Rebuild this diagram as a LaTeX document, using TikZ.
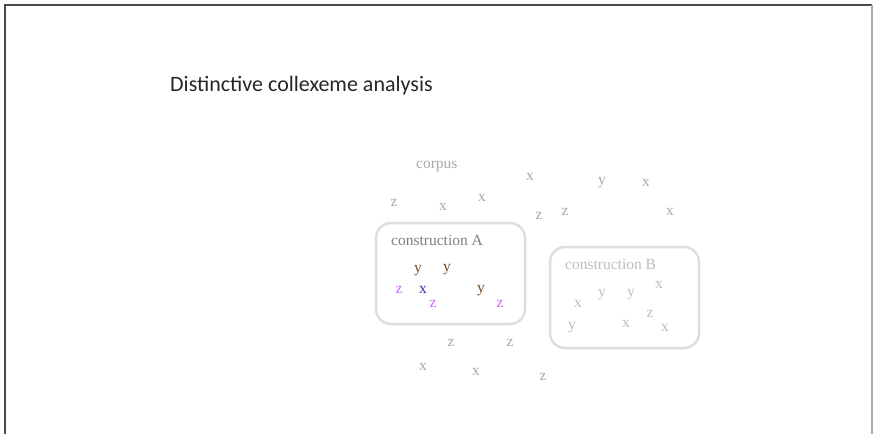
\documentclass[tikz,border=0pt]{standalone}
\usepackage{fontspec}
\setmainfont{Liberation Serif}
\newfontfamily\titlefont{Carlito}
\usetikzlibrary{positioning}

\definecolor{framegray}{HTML}{4A4A4A}
\definecolor{boxgray}{HTML}{DEDEDE}
\definecolor{lettergray}{HTML}{A8A8A8}
\definecolor{labelA}{HTML}{7F7F7F}
\definecolor{labelB}{HTML}{BDBDBD}
\definecolor{titlegray}{HTML}{262626}
\definecolor{ybrown}{HTML}{7B4A1C}
\definecolor{zviolet}{HTML}{CC66FF}
\definecolor{xblue}{HTML}{3535B0}

\begin{document}
\begin{tikzpicture}[
        x = 1pt, y = -1pt, % one unit per pixel
        letter/.style = {anchor=base, inner sep=0pt, font=\fontsize{15.5}{16}\selectfont, text=lettergray},
        label/.style = {anchor=base west, inner sep=0pt, font=\fontsize{15.5}{16}\selectfont},
        box/.style = {draw=boxgray, line width=2.5pt, rounded corners=15pt, inner sep=0pt}
        ]
  \useasboundingbox (0,0) rectangle (873,434);

  % slide frame
  \draw[framegray, line width=2pt] (4.5,434) -- (4.5,4.5) -- (872,4.5);
  \draw[lettergray, line width=1.5pt] (872,4.5) -- (872,434);

  \node[anchor=base west, inner sep=0pt, text=titlegray, font=\titlefont\fontsize{22}{24}\selectfont] (title) at (170,91) {Distinctive collexeme analysis};

  % the two constructions
  \node[box, minimum width=149pt, minimum height=101pt] (boxA) at (450.5,273.5) {};
  \node[box, minimum width=149pt, minimum height=101pt] (boxB) at (624.5,297.5) {};

  \node[label, text=lettergray] (corpus) at (416,168) {corpus};
  \node[label, text=labelA] (consA) at (391,245.5) {construction A};
  \node[label, text=labelB] (consB) at (565,269.5) {construction B};

  % corpus, outside the boxes
  \foreach \l/\px/\py [count=\i] in {x/530/180.5, y/602/184.5, x/646/186, z/394/206,
      x/443/210, x/482/201, z/539/219, z/565/215, x/670/215,
      z/451/346, z/510/346, x/423/370, x/476/375, z/543/380}
    \node[letter] (out\i) at (\px,\py) {\l};

  % inside construction A
  \node[letter, text=ybrown] (a1) at (418,272.5) {y};
  \node[letter, text=ybrown] (a2) at (447,271.5) {y};
  \node[letter, text=zviolet] (a3) at (399,293) {z};
  \node[letter, text=xblue] (a4) at (423,293) {x};
  \node[letter, text=zviolet] (a5) at (433,307) {z};
  \node[letter, text=ybrown] (a6) at (481,292.5) {y};
  \node[letter, text=zviolet] (a7) at (500,307) {z};

  % inside construction B
  \foreach \l/\px/\py [count=\i] in {x/659/288, y/602/296.5, y/631/296.5, x/578/307,
      z/650/317, x/626/327, y/572/329.5, x/665/331}
    \node[letter, text=labelB] (b\i) at (\px,\py) {\l};

\end{tikzpicture}
\end{document}
